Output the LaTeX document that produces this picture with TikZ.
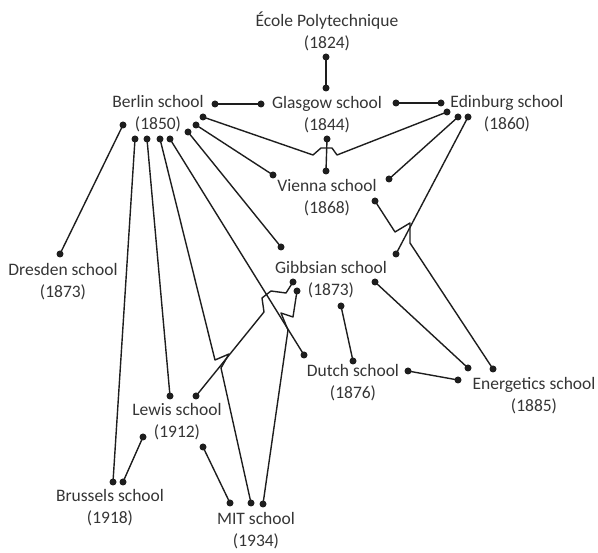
\documentclass[tikz,border=0pt]{standalone}
\usepackage{fontspec}
\setmainfont{Carlito}
\usepackage{xcolor}
\usepackage{tikz}
\definecolor{Ink}{HTML}{1E1E1E}
\definecolor{Label}{HTML}{353535}

\begin{document}
\begin{tikzpicture}[x=1pt,y=-1pt,
  every node/.style={font=\fontsize{17.5}{22}\selectfont,text=Label,align=center,inner sep=0pt},
  link/.style={draw=Ink,line width=1.4pt,line join=round},
  knob/.style={fill=Ink}]
\useasboundingbox (0,0) rectangle (598,553);

\node (ecole) at (327,31) {École Polytechnique\\(1824)};
\node (glasgow) at (327,115) {Glasgow school\\(1844)};
\node (berlin) at (158,114) {Berlin school\\(1850)};
\node (edinburg) at (507,114) {Edinburg school\\(1860)};
\node (vienna) at (327,198) {Vienna school\\(1868)};
\node (dresden) at (63,282) {Dresden school\\(1873)};
\node (gibbsian) at (331,280) {Gibbsian school\\(1873)};
\node (dutch) at (353,383) {Dutch school\\(1876)};
\node (energetics) at (534,396) {Energetics school\\(1885)};
\node (lewis) at (177,422) {Lewis school\\(1912)};
\node (brussels) at (110,508) {Brussels school\\(1918)};
\node (mit) at (256,531) {MIT school\\(1934)};

\coordinate (eco-gla) at (326,57);
\coordinate (gla-eco) at (326,88);
\coordinate (ber-gla) at (215,104);
\coordinate (gla-ber) at (261,104);
\coordinate (gla-edi) at (396,103);
\coordinate (edi-gla) at (441,103);
\coordinate (gla-vie) at (327,139);
\coordinate (vie-gla) at (326,171);
\coordinate (ber-edi) at (203,117);
\coordinate (edi-ber) at (447,112);
\coordinate (ber-vie) at (196,125);
\coordinate (vie-ber) at (273,175);
\coordinate (edi-vie) at (458,117);
\coordinate (vie-edi) at (389,179);
\coordinate (edi-gib) at (468,117);
\coordinate (gib-edi) at (396,254);
\coordinate (vie-ene) at (375,201);
\coordinate (ene-vie) at (493,369);
\coordinate (gib-ene) at (375,282);
\coordinate (ene-gib) at (468,368);
\coordinate (gib-dut) at (341,306);
\coordinate (dut-gib) at (353,361);
\coordinate (dut-ene) at (408,371);
\coordinate (ene-dut) at (458,380);
\coordinate (ber-dre) at (123,125);
\coordinate (dre-ber) at (60,254);
\coordinate (ber-gib) at (188,132);
\coordinate (gib-ber) at (281,247);
\coordinate (ber-bru) at (135,139);
\coordinate (bru-ber) at (113,482);
\coordinate (bru-lew) at (123,482);
\coordinate (lew-bru) at (143,437);
\coordinate (ber-lew) at (147,139);
\coordinate (lew-ber) at (170,396);
\coordinate (ber-mit) at (160,139);
\coordinate (mit-ber) at (251,503);
\coordinate (ber-dut) at (170,139);
\coordinate (dut-ber) at (304,355);
\coordinate (gib-lew) at (293,282);
\coordinate (lew-gib) at (196,396);
\coordinate (gib-mit) at (297,291);
\coordinate (mit-gib) at (263,504);
\coordinate (lew-mit) at (203,447);
\coordinate (mit-lew) at (230,503);

\foreach \u/\v in {eco-gla/gla-eco,ber-gla/gla-ber,gla-edi/edi-gla,gla-vie/vie-gla,
    ber-vie/vie-ber,edi-vie/vie-edi,edi-gib/gib-edi,gib-ene/ene-gib,gib-dut/dut-gib,
    dut-ene/ene-dut,ber-dre/dre-ber,ber-gib/gib-ber,ber-bru/bru-ber,bru-lew/lew-bru,
    ber-lew/lew-ber,ber-dut/dut-ber,lew-mit/mit-lew}
  \draw[link] (\u) -- (\v);

% links that hop over the lines they cross
\draw[link] (ber-edi) -- (313,155) -- (321,148) -- (332,148) -- (337,155) -- (edi-ber);
\draw[link] (vie-ene) -- (395,232) -- (410,223) -- (410,243) -- (ene-vie);
\draw[link] (ber-mit) -- (215,360) -- (229,354) -- (221,368) -- (mit-ber);
\draw[link] (gib-lew) -- (286,293) -- (271,291) -- (262,298) -- (264,312) -- (lew-gib);
\draw[link] (gib-mit) -- (293,317) -- (281,313) -- (288,330) -- (mit-gib);

\foreach \p in {eco-gla,gla-eco,ber-gla,gla-ber,gla-edi,edi-gla,gla-vie,vie-gla,ber-edi,
    edi-ber,ber-vie,vie-ber,edi-vie,vie-edi,edi-gib,gib-edi,vie-ene,ene-vie,gib-ene,
    ene-gib,gib-dut,dut-gib,dut-ene,ene-dut,ber-dre,dre-ber,ber-gib,gib-ber,ber-bru,
    bru-ber,bru-lew,lew-bru,ber-lew,lew-ber,ber-mit,mit-ber,ber-dut,dut-ber,gib-lew,
    lew-gib,gib-mit,mit-gib,lew-mit,mit-lew}
  \fill[knob] (\p) circle (3.5pt);
\end{tikzpicture}
\end{document}
